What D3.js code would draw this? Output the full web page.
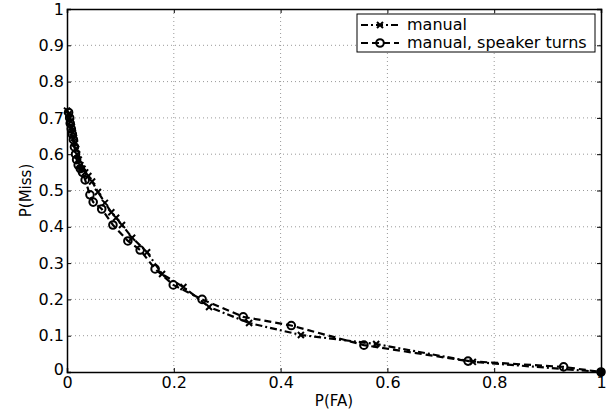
<!DOCTYPE html>
<html>
<head>
<meta charset="utf-8">
<script src="https://cdn.jsdelivr.net/npm/d3@7"></script>
<style>
  body { margin: 0; background: #fff; }
  text { font-family: 'DejaVu Sans', sans-serif; }
</style>
</head>
<body>
<div id="chart"></div>
<script>
// P(FA), P(Miss) pairs
const manualFA = [0.000, 0.003, 0.005, 0.007, 0.009, 0.011, 0.013, 0.015, 0.017, 0.019, 0.022, 0.025, 0.029, 0.034, 0.040, 0.047, 0.058, 0.071, 0.083, 0.092, 0.103, 0.122, 0.150, 0.178, 0.218, 0.266, 0.341, 0.438, 0.579, 0.760, 1.000];
const manualMiss = [0.720, 0.710, 0.700, 0.690, 0.675, 0.660, 0.645, 0.630, 0.615, 0.600, 0.585, 0.570, 0.560, 0.550, 0.540, 0.525, 0.496, 0.466, 0.440, 0.425, 0.405, 0.370, 0.330, 0.270, 0.234, 0.179, 0.135, 0.102, 0.077, 0.028, 0.000];

const turnsFA = [0.003, 0.005, 0.006, 0.008, 0.010, 0.012, 0.014, 0.016, 0.018, 0.021, 0.025, 0.029, 0.034, 0.043, 0.049, 0.065, 0.086, 0.114, 0.137, 0.165, 0.199, 0.253, 0.330, 0.420, 0.556, 0.751, 0.930, 1.000];
const turnsMiss = [0.715, 0.700, 0.685, 0.670, 0.655, 0.640, 0.620, 0.600, 0.585, 0.570, 0.560, 0.550, 0.529, 0.488, 0.468, 0.449, 0.405, 0.361, 0.336, 0.284, 0.240, 0.200, 0.152, 0.128, 0.074, 0.030, 0.014, 0.000];

const xTicks = [0, 0.2, 0.4, 0.6, 0.8, 1];
const yTicks = [0, 0.1, 0.2, 0.3, 0.4, 0.5, 0.6, 0.7, 0.8, 0.9, 1];
const legendLabels = ['manual', 'manual, speaker turns'];

const W = 607, H = 410;
const margin = { top: 9, right: 6, bottom: 38, left: 67 };
const width = W - margin.left - margin.right,
  height = H - margin.top - margin.bottom;

const svg = d3.select('#chart').append('svg')
  .attr('width', W)
  .attr('height', H);

const g = svg.append('g')
  .attr('transform', 'translate(' + margin.left + ',' + margin.top + ')');

const x = d3.scaleLinear().domain([0, 1]).range([0, width]);
const y = d3.scaleLinear().domain([0, 1]).range([height, 0]);

// dotted grid
g.append('g').selectAll('line')
  .data(xTicks.slice(1, -1))
  .join('line')
  .attr('x1', d => x(d)).attr('x2', d => x(d))
  .attr('y1', 0).attr('y2', height)
  .attr('stroke', '#999').attr('stroke-dasharray', '1,3');
g.append('g').selectAll('line')
  .data(yTicks.slice(1, -1))
  .join('line')
  .attr('y1', d => y(d)).attr('y2', d => y(d))
  .attr('x1', 0).attr('x2', width)
  .attr('stroke', '#999').attr('stroke-dasharray', '1,3');

// axes, ticks pointing inward
const fmt = d => d3.format('')(d);
const xAxis = g.append('g')
  .attr('transform', 'translate(0,' + height + ')')
  .call(d3.axisBottom(x).tickValues(xTicks).tickSize(-4).tickPadding(5).tickFormat(fmt));
const yAxis = g.append('g')
  .call(d3.axisLeft(y).tickValues(yTicks).tickSize(-4).tickPadding(3).tickFormat(fmt));
g.append('g')
  .call(d3.axisTop(x).tickValues(xTicks).tickSize(-4).tickFormat(''));
g.append('g')
  .attr('transform', 'translate(' + width + ',0)')
  .call(d3.axisRight(y).tickValues(yTicks).tickSize(-4).tickFormat(''));

g.selectAll('.domain').attr('stroke', '#000').attr('stroke-width', 1.5);
g.selectAll('.tick line').attr('stroke', '#000');
g.selectAll('.tick text')
  .attr('fill', '#000')
  .style('font-size', '16px')
  .style('font-family', "'DejaVu Sans', sans-serif");
// MATLAB puts the y "0" a bit lower
yAxis.selectAll('.tick text').filter(d => d === 0).attr('dy', '0.15em');

// curves
const manualData = manualFA.map((d, i) => [d, manualMiss[i]]);
const turnsData = turnsFA.map((d, i) => [d, turnsMiss[i]]);
const line = d3.line().x(d => x(d[0])).y(d => y(d[1]));

g.append('path').datum(manualData)
  .attr('d', line)
  .attr('fill', 'none').attr('stroke', '#000')
  .attr('stroke-width', 2.2).attr('stroke-dasharray', '7,3,2,3');
g.append('path').datum(turnsData)
  .attr('d', line)
  .attr('fill', 'none').attr('stroke', '#000')
  .attr('stroke-width', 2.2).attr('stroke-dasharray', '7,4');

function crossMark(sel) {
  sel.append('path')
    .attr('d', 'M-3,-3L3,3M-3,3L3,-3')
    .attr('stroke', '#000').attr('stroke-width', 2).attr('fill', 'none');
}
function circleMark(sel) {
  sel.append('circle')
    .attr('r', 3.8)
    .attr('fill', 'none').attr('stroke', '#000').attr('stroke-width', 2);
}

g.append('g').selectAll('g')
  .data(manualData)
  .join('g')
  .attr('transform', d => 'translate(' + x(d[0]) + ',' + y(d[1]) + ')')
  .call(crossMark);
g.append('g').selectAll('g')
  .data(turnsData)
  .join('g')
  .attr('transform', d => 'translate(' + x(d[0]) + ',' + y(d[1]) + ')')
  .call(circleMark);

// end point drawn as a solid dot
g.append('circle')
  .attr('cx', x(1)).attr('cy', y(0)).attr('r', 4).attr('fill', '#000');

// axis labels
svg.append('text')
  .attr('x', margin.left + width / 2)
  .attr('y', 406)
  .attr('text-anchor', 'middle')
  .style('font-size', '15px')
  .text('P(FA)');
svg.append('text')
  .attr('transform', 'translate(31,' + (margin.top + height / 2) + ') rotate(-90)')
  .attr('text-anchor', 'middle')
  .style('font-size', '15px')
  .text('P(Miss)');

// legend
const legend = svg.append('g').attr('transform', 'translate(357,14)');
legend.append('rect')
  .attr('width', 238).attr('height', 38)
  .attr('fill', '#fff').attr('stroke', '#000').attr('stroke-width', 1);

const styles = [
  { dash: '7,3,2,3', mark: crossMark },
  { dash: '7,4', mark: circleMark },
];
legendLabels.forEach((lbl, i) => {
  const row = legend.append('g').attr('transform', 'translate(0,' + (11 + i * 18) + ')');
  row.append('line')
    .attr('x1', 4).attr('x2', 42)
    .attr('stroke', '#000').attr('stroke-width', 2)
    .attr('stroke-dasharray', styles[i].dash);
  row.append('g').attr('transform', 'translate(23,0)').call(styles[i].mark);
  row.append('text')
    .attr('x', 50).attr('y', 5)
    .style('font-size', '16px')
    .text(lbl);
});
</script>
</body>
</html>
